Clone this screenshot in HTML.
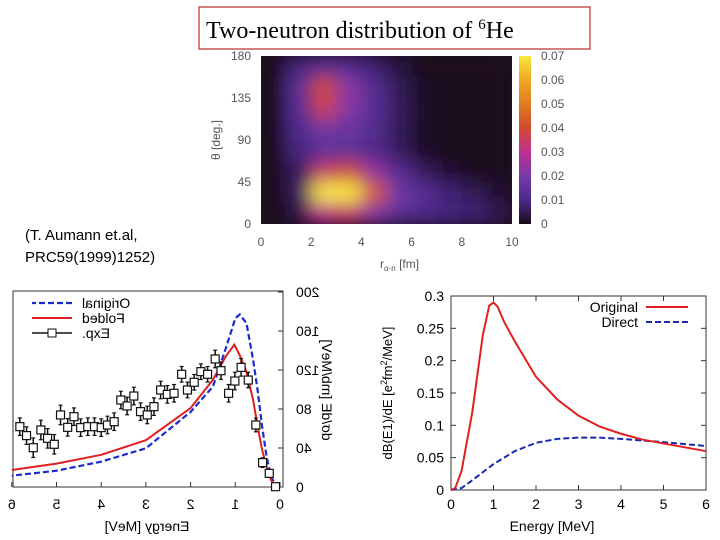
<!DOCTYPE html>
<html><head><meta charset="utf-8"><style>
html,body{margin:0;padding:0;background:#fff;}
svg{display:block;font-family:"Liberation Sans",sans-serif;}
</style></head><body>
<svg width="720" height="540" viewBox="0 0 720 540">
<defs>
<filter id="blur" filterUnits="userSpaceOnUse" x="200" y="0" width="380" height="290"><feGaussianBlur stdDeviation="9"/></filter>
<clipPath id="hmclip"><rect x="261" y="56" width="251" height="168"/></clipPath>
<linearGradient id="cbar" x1="0" y1="1" x2="0" y2="0">
<stop offset="0" stop-color="#1a0a1a"/><stop offset="0.14" stop-color="#4a2a8a"/>
<stop offset="0.29" stop-color="#7a3aaa"/><stop offset="0.43" stop-color="#c03090"/>
<stop offset="0.57" stop-color="#d04a30"/><stop offset="0.71" stop-color="#e07a20"/>
<stop offset="0.86" stop-color="#f0a820"/><stop offset="1" stop-color="#f8e840"/>
</linearGradient>
</defs>
<rect x="199" y="7" width="391" height="42" fill="#fff" stroke="#c0393b" stroke-width="1.3"/>
<text x="206" y="38" font-family="Liberation Serif,serif" font-size="24" fill="#000">Two-neutron distribution of <tspan font-size="15" dy="-9">6</tspan><tspan dy="9">He</tspan></text>
<text x="25" y="240" font-size="15">(T. Aumann et.al,</text>
<text x="25" y="262" font-size="15">PRC59(1999)1252)</text>
<g id="heat"></g>
<g id="left" transform="translate(295,0) scale(-1,1)"></g>
<g id="right"></g>
</svg>
<script>
// ---------- heatmap data ----------
const hmR = [0.5,1.5,2.5,3.5,4.5,5.5,6.5,7.5,8.5,9.5];
const hmTheta = [168.75,146.25,123.75,101.25,78.75,56.25,33.75,11.25];
const hmValues = [
[0,0.009,0.014,0.013,0.008,0.003,0,0,0,0],
[0,0.014,0.040,0.022,0.012,0.005,0.001,0,0,0],
[0,0.013,0.036,0.022,0.013,0.006,0.001,0,0,0],
[0,0.011,0.018,0.016,0.012,0.005,0.001,0,0,0],
[0,0.009,0.014,0.014,0.011,0.006,0.001,0,0,0],
[0,0.006,0.034,0.040,0.024,0.012,0.006,0.002,0,0],
[0,0.006,0.072,0.076,0.044,0.018,0.012,0.008,0.005,0.002],
[0,0.004,0.030,0.034,0.022,0.014,0.011,0.009,0.008,0.005]];
const hmXTicks = [0,2,4,6,8,10];
const hmYTicks = [0,45,90,135,180];
const cbTicks = ["0","0.01","0.02","0.03","0.04","0.05","0.06","0.07"];
// ---------- left chart data ----------
const expE = [5.82,5.67,5.52,5.35,5.20,5.05,4.91,4.75,4.61,4.46,4.30,4.15,4.00,3.86,3.71,3.56,3.42,3.27,3.12,2.97,2.82,2.67,2.52,2.37,2.20,2.07,1.92,1.77,1.62,1.45,1.32,1.15,1.01,0.87,0.71,0.54,0.39,0.24,0.10];
const expV = [61.9,52.7,40.3,58.5,49.9,43.8,73.9,61.2,72.1,60.9,61.9,61.9,60.9,63.6,67.0,89.2,83.1,93.3,77.3,73.9,82.4,99.5,95.0,96.1,115.6,99.5,107.4,118.3,115.6,131.3,119.3,96.1,108.7,122.7,109.7,63.6,25.0,14.0,0.3];
const expErr = [9,9,10,10,10,10,10,9,9,9,9,9,9,9,9,9,9,9,9,9,9,9,9,9,8,8,8,8,8,9,9,9,9,9,8,7,5,4,2];
const origE = [0,0.1,0.2,0.3,0.4,0.5,0.6,0.75,0.9,1.0,1.2,1.5,2,3,4,5,6];
const origV = [0,2,10.6,31,62,99,130,168,177,173,144,103,77,39.7,26,16.7,11.6];
const foldE = [0,0.1,0.2,0.3,0.4,0.5,0.6,0.75,0.9,1.02,1.2,1.5,2,3,4,5,6];
const foldV = [0,1,7,21,38,62,89,118,135,146,135,110,81,48,33,24,17.4];
const leftXTicks = [0,1,2,3,4,5,6];
const leftYTicks = [0,40,80,120,160,200];
// ---------- right chart data ----------
const rOrigE = [0,0.1,0.25,0.5,0.75,0.9,1.0,1.1,1.25,1.5,2,2.5,3,3.5,4,4.5,5,5.5,6];
const rOrigV = [0,0.003,0.03,0.12,0.24,0.285,0.29,0.283,0.26,0.23,0.175,0.14,0.115,0.098,0.087,0.078,0.072,0.066,0.06];
const rDirE = [0,0.25,0.5,1,1.5,2,2.5,3,3.5,4,5,6];
const rDirV = [0,0.003,0.015,0.04,0.06,0.073,0.079,0.081,0.081,0.079,0.074,0.068];
const rXTicks = [0,1,2,3,4,5,6];
const rYTicks = ["0","0.05","0.1","0.15","0.2","0.25","0.3"];

const NS="http://www.w3.org/2000/svg";
function mk(tag,attrs,parent,txt){const e=document.createElementNS(NS,tag);for(const k in attrs)e.setAttribute(k,attrs[k]);if(txt!==undefined)e.textContent=txt;parent.appendChild(e);return e;}

// ---------- heatmap ----------
(function(){
const g=document.getElementById('heat');
const hx=r=>261+r*25.1, hy=t=>224-t*0.9333;
const stops=[[0,[26,10,26]],[0.01,[74,42,138]],[0.02,[122,58,170]],[0.03,[192,48,144]],[0.04,[208,74,48]],[0.05,[224,122,32]],[0.06,[240,168,32]],[0.07,[248,232,64]]];
function col(v){for(let i=1;i<stops.length;i++){if(v<=stops[i][0]){const a=stops[i-1],b=stops[i],t=(v-a[0])/(b[0]-a[0]);return 'rgb('+a[1].map((c,j)=>Math.round(c+(b[1][j]-c)*t)).join(',')+')';}}return 'rgb(248,232,64)';}
const bg=mk('rect',{x:261,y:56,width:251,height:168,fill:'#1a0a1a'},g);


const cl=mk('g',{'clip-path':'url(#hmclip)'},g);
const cells=mk('g',{filter:'url(#blur)'},cl);
hmTheta.forEach((t,i)=>hmR.forEach((r,j)=>{
 const c=mk('rect',{x:hx(r-0.5),y:hy(t+11.25),width:25.3,height:21.2,fill:col(hmValues[i][j])},cells);
 
 
}));
hmXTicks.forEach(v=>{const t=mk('text',{x:hx(v),y:246,'font-size':12,fill:'#555','text-anchor':'middle'},g,v);
 
 });
hmYTicks.forEach(v=>{const t=mk('text',{x:251,y:hy(v)+4,'font-size':12,fill:'#555','text-anchor':'end'},g,v);
 
 });
const xl=mk('text',{x:380,y:268,'font-size':12,fill:'#555'},g);
xl.innerHTML='r<tspan font-size="8" dy="3">α-n</tspan><tspan dy="-3"> [fm]</tspan>';


const yl=mk('text',{x:0,y:0,'font-size':12,fill:'#555','text-anchor':'middle',transform:'translate(220,140) rotate(-90)'},g,'θ [deg.]');


const cb=mk('rect',{x:519,y:56,width:12,height:168,fill:'url(#cbar)'},g);


cbTicks.forEach((s,i)=>{const y=224-i*24;const t=mk('text',{x:541,y:y+4,'font-size':12,fill:'#555'},g,s);
 
 });
})();

// ---------- left (mirrored) chart ----------
(function(){
const g=document.getElementById('left');
const X=e=>15+e*44.7, Y=v=>487-v*0.975;
const fr=mk('rect',{x:12,y:291,width:270,height:196,fill:'none',stroke:'#333','stroke-width':1},g);


leftXTicks.forEach(v=>{mk('line',{x1:X(v),x2:X(v),y1:487,y2:482,stroke:'#333'},g);
 const t=mk('text',{x:X(v),y:509,'font-size':14,'text-anchor':'middle'},g,v);
 
 });
leftYTicks.forEach(v=>{mk('line',{x1:12,x2:17,y1:Y(v),y2:Y(v),stroke:'#333'},g);
 const t=mk('text',{x:-1,y:Y(v)+5,'font-size':14,'text-anchor':'end'},g,v);
 
 });
const xl=mk('text',{x:148,y:531,'font-size':14,'text-anchor':'middle'},g,'Energy [MeV]');


const yl=mk('text',{x:0,y:0,'font-size':14,'text-anchor':'middle',transform:'translate(-27,390) rotate(-90)'},g,'dσ/dE [mb/MeV]');


const o=mk('polyline',{points:origE.map((e,i)=>X(e)+','+Y(origV[i])).join(' '),fill:'none',stroke:'#1a2ad0','stroke-width':2.2,'stroke-dasharray':'6,3'},g);


const f=mk('polyline',{points:foldE.map((e,i)=>X(e)+','+Y(foldV[i])).join(' '),fill:'none',stroke:'#e02020','stroke-width':2},g);


expE.forEach((e,i)=>{
 const x=X(e),y=Y(expV[i]),d=expErr[i]*0.975;
 const pg=mk('g',{},g);
 
 
 mk('line',{x1:x,x2:x,y1:y-d,y2:y+d,stroke:'#111','stroke-width':1.5},pg);
 mk('line',{x1:x-2,x2:x+2,y1:y-d,y2:y-d,stroke:'#111','stroke-width':1.2},pg);
 mk('line',{x1:x-2,x2:x+2,y1:y+d,y2:y+d,stroke:'#111','stroke-width':1.2},pg);
 mk('rect',{x:x-4,y:y-4,width:8,height:8,fill:'#fff',stroke:'#111','stroke-width':1.2},pg);
});
const legs=[['Original',303],['Folded',318],['Exp.',333]];
legs.forEach((l,i)=>{
 const t=mk('text',{x:213,y:l[1]+5,'font-size':14,'text-anchor':'end'},g,l[0]);
 
 
 if(i===0)mk('line',{x1:223,x2:263,y1:l[1],y2:l[1],stroke:'#1a2ad0','stroke-width':2.2,'stroke-dasharray':'6,3'},g);
 if(i===1)mk('line',{x1:223,x2:263,y1:l[1],y2:l[1],stroke:'#e02020','stroke-width':2},g);
 if(i===2){mk('line',{x1:223,x2:263,y1:l[1],y2:l[1],stroke:'#111','stroke-width':1.5},g);
  mk('rect',{x:239,y:l[1]-4,width:8,height:8,fill:'#fff',stroke:'#111'},g);}
});
})();

// ---------- right chart ----------
(function(){
const g=document.getElementById('right');
const X=e=>451+e*42.5, Y=v=>490-v*646.7;
const fr=mk('rect',{x:451,y:296,width:255,height:194,fill:'none',stroke:'#333','stroke-width':1},g);


rXTicks.forEach(v=>{mk('line',{x1:X(v),x2:X(v),y1:490,y2:485,stroke:'#333'},g);mk('line',{x1:X(v),x2:X(v),y1:296,y2:301,stroke:'#333'},g);
 const t=mk('text',{x:X(v),y:509,'font-size':14,'text-anchor':'middle'},g,v);
 
 });
rYTicks.forEach(s=>{const v=parseFloat(s);mk('line',{x1:451,x2:456,y1:Y(v),y2:Y(v),stroke:'#333'},g);mk('line',{x1:706,x2:701,y1:Y(v),y2:Y(v),stroke:'#333'},g);
 const t=mk('text',{x:444,y:Y(v)+5,'font-size':14,'text-anchor':'end'},g,s);
 
 });
const xl=mk('text',{x:552,y:531,'font-size':14,'text-anchor':'middle'},g,'Energy [MeV]');


const yl=mk('text',{x:0,y:0,'font-size':13,'text-anchor':'middle',transform:'translate(392,393) rotate(-90)'},g);
yl.innerHTML='dB(E1)/dE [e<tspan font-size="9" dy="-5">2</tspan><tspan dy="5">fm</tspan><tspan font-size="9" dy="-5">2</tspan><tspan dy="5">/MeV]</tspan>';


const d=mk('polyline',{points:rDirE.map((e,i)=>X(e)+','+Y(rDirV[i])).join(' '),fill:'none',stroke:'#1a2ab0','stroke-width':2,'stroke-dasharray':'6,3'},g);


const o=mk('polyline',{points:rOrigE.map((e,i)=>X(e)+','+Y(rOrigV[i])).join(' '),fill:'none',stroke:'#e02020','stroke-width':2},g);


const t1=mk('text',{x:638,y:312,'font-size':14,'text-anchor':'end'},g,'Original');


mk('line',{x1:646,x2:688,y1:307,y2:307,stroke:'#e02020','stroke-width':2},g);
const t2=mk('text',{x:638,y:327,'font-size':14,'text-anchor':'end'},g,'Direct');


mk('line',{x1:646,x2:688,y1:322,y2:322,stroke:'#1a2ab0','stroke-width':2,'stroke-dasharray':'6,3'},g);
})();
</script>
</body></html>
